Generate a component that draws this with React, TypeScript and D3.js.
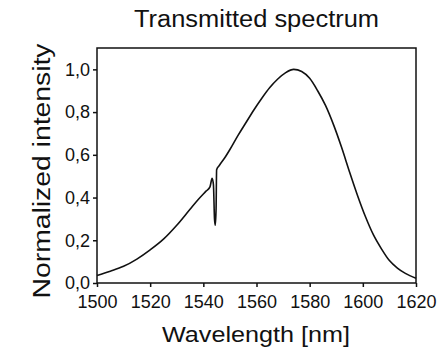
import React, { useRef, useEffect } from 'react';
import * as d3 from 'd3';

// wavelength [nm] and normalized intensity
const wavelengths = [
  1500, 1505, 1510, 1515, 1520, 1525, 1530, 1535, 1538, 1541, 1542.5, 1543.3, 1543.8,
  1544.2, 1544.5, 1544.8, 1545, 1546, 1548, 1550, 1553, 1556, 1559, 1562, 1565, 1568,
  1571, 1574, 1577, 1580, 1583, 1586, 1589, 1592, 1595, 1598, 1601, 1604, 1607, 1610,
  1613, 1616, 1620,
];
const intensity = [
  0.035, 0.055, 0.078, 0.112, 0.155, 0.205, 0.27, 0.345, 0.39, 0.43, 0.45, 0.49, 0.46,
  0.3, 0.27, 0.35, 0.53, 0.55, 0.585, 0.625, 0.69, 0.75, 0.81, 0.865, 0.915, 0.955,
  0.985, 1.0, 0.99, 0.958, 0.9, 0.83, 0.74, 0.635, 0.52, 0.41, 0.31, 0.225, 0.16, 0.105,
  0.07, 0.045, 0.022,
];
const xTicks = [1500, 1520, 1540, 1560, 1580, 1600, 1620];
const yTicks = [0, 0.2, 0.4, 0.6, 0.8, 1.0];

const W = 439;
const H = 352;
const margin = { top: 48, right: 23, bottom: 69, left: 97 };
const font = "Arial, 'Liberation Sans', sans-serif";

const App = () => {
  const svgRef = useRef(null);

  useEffect(() => {
    const svg = d3.select(svgRef.current);
    svg.selectAll('*').remove();

    const x = d3.scaleLinear().domain([1500, 1620]).range([margin.left, W - margin.right]);
    const y = d3.scaleLinear().domain([0, 1.1]).range([H - margin.bottom, margin.top]);

    // frame
    svg.append('rect')
      .attr('x', margin.left)
      .attr('y', margin.top)
      .attr('width', W - margin.left - margin.right)
      .attr('height', H - margin.top - margin.bottom)
      .attr('fill', 'none')
      .attr('stroke', '#111')
      .attr('stroke-width', 1.5);

    // x axis
    const xAxis = svg.append('g').attr('transform', `translate(0,${H - margin.bottom})`);
    xAxis.call(d3.axisBottom(x).tickValues(d3.range(1510, 1620, 20)).tickSize(3).tickFormat(() => ''));
    xAxis.call(d3.axisBottom(x).tickValues(xTicks).tickSize(4).tickFormat(d3.format('d')));
    xAxis.select('.domain').remove();
    xAxis.selectAll('line').attr('stroke', '#111').attr('stroke-width', 1.5);
    xAxis.selectAll('text')
      .attr('font-family', font)
      .attr('font-size', 18)
      .attr('fill', '#111')
      .attr('y', 12)
      .attr('dy', '0.71em');

    // y axis
    const yAxis = svg.append('g').attr('transform', `translate(${margin.left},0)`);
    yAxis.call(d3.axisLeft(y).tickValues(d3.range(0.1, 1.05, 0.2)).tickSize(3).tickFormat(() => ''));
    yAxis.call(d3.axisLeft(y).tickValues(yTicks).tickSize(4)
      .tickFormat(d => d3.format('.1f')(d as number).replace('.', ',')));
    yAxis.select('.domain').remove();
    yAxis.selectAll('line').attr('stroke', '#111').attr('stroke-width', 1.5);
    yAxis.selectAll('text')
      .attr('font-family', font)
      .attr('font-size', 18)
      .attr('fill', '#111')
      .attr('x', -7);

    // spectrum
    const line = d3.line<number>()
      .x((d, i) => x(wavelengths[i]))
      .y(d => y(d))
      .curve(d3.curveMonotoneX);
    svg.append('path')
      .datum(intensity)
      .attr('d', line)
      .attr('fill', 'none')
      .attr('stroke', '#111')
      .attr('stroke-width', 1.6)
      .attr('stroke-linejoin', 'round');

    // titles (glyphs in the picture are a bit wider than Arial, so stretch to the measured length)
    svg.append('text')
      .attr('x', (margin.left + W - margin.right) / 2)
      .attr('y', 27)
      .attr('text-anchor', 'middle')
      .attr('font-family', font)
      .attr('font-size', 23)
      .attr('fill', '#111')
      .attr('textLength', 245)
      .attr('lengthAdjust', 'spacingAndGlyphs')
      .text('Transmitted spectrum');

    svg.append('text')
      .attr('x', 256)
      .attr('y', 342)
      .attr('text-anchor', 'middle')
      .attr('font-family', font)
      .attr('font-size', 22)
      .attr('fill', '#111')
      .attr('textLength', 188)
      .attr('lengthAdjust', 'spacingAndGlyphs')
      .text('Wavelength [nm]');

    svg.append('text')
      .attr('transform', `translate(50,171) rotate(-90)`)
      .attr('text-anchor', 'middle')
      .attr('font-family', font)
      .attr('font-size', 23)
      .attr('fill', '#111')
      .attr('textLength', 255)
      .attr('lengthAdjust', 'spacingAndGlyphs')
      .text('Normalized intensity');
  }, []);

  return (
    <svg ref={svgRef} width={W} height={H}
      style={{ position: 'absolute', left: 0, top: 0, background: '#fff' }} />
  );
};

export default App;
